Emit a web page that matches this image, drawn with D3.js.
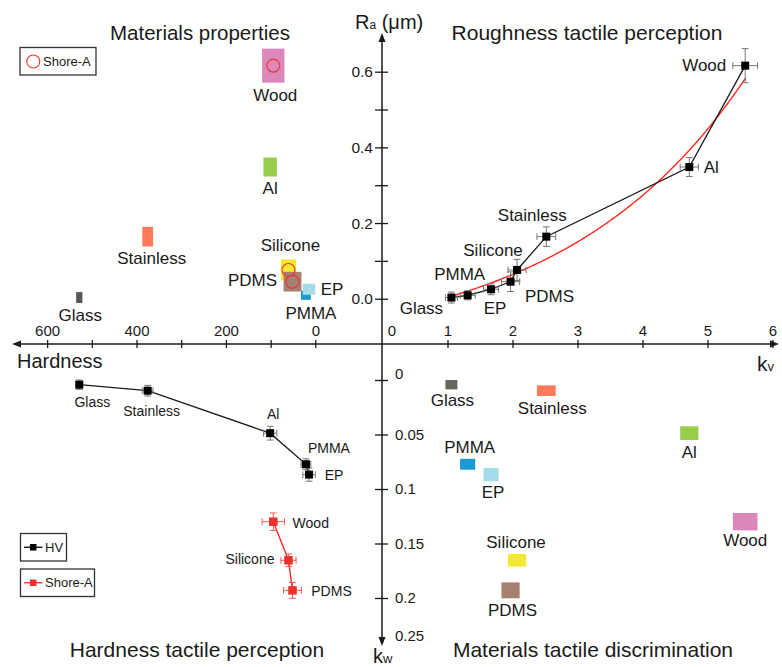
<!DOCTYPE html>
<html>
<head>
<meta charset="utf-8">
<script src="https://cdn.jsdelivr.net/npm/d3@7"></script>
<style>
  body { margin: 0; background: #ffffff; }
  svg { display: block; font-family: "Liberation Sans", Arial, Helvetica, sans-serif; }
</style>
</head>
<body>
<svg id="chart" width="782" height="667"></svg>
<script>
// ---- data ----
const materials     = ["Glass", "Stainless", "Al", "PMMA", "EP", "Silicone", "PDMS", "Wood"];
const hardnessType  = ["HV", "HV", "HV", "HV", "HV", "Shore-A", "Shore-A", "Shore-A"];
const hardness      = [528, 375, 101, 21, 14, 60, 51, 94];
const hardnessErr   = [7, 12, 15, 11, 14, 17, 20, 25];
const ra            = [0.003, 0.164, 0.348, 0.009, 0.025, 0.076, 0.045, 0.616];
const raErr         = [0.0145, 0.026, 0.025, 0.012, 0.0145, 0.028, 0.026, 0.045];
const kv            = [1.06, 2.52, 4.72, 1.31, 1.67, 2.07, 1.97, 5.58];
const kvErr         = [0.092, 0.144, 0.14, 0.116, 0.116, 0.139, 0.14, 0.19];
const kw            = [0.0043, 0.0098, 0.0488, 0.0773, 0.0868, 0.1654, 0.193, 0.130];
const kwErr         = [0.0043, 0.0049, 0.0063, 0.005, 0.0061, 0.0058, 0.0073, 0.008];

// exponential fit Ra = a*exp(b*kv) + c over the measured kv range
const fitA = 0.0993, fitB = 0.355, fitC = -0.138;
const fitDomain = [1.07, 5.6];

// axis ticks
const hardTicks  = [0, 100, 200, 300, 400, 500, 600];
const hardLabels = [0, 200, 400, 600];
const kvTicks    = [0, 1, 2, 3, 4, 5, 6];
const raTicks    = [0, 0.1, 0.2, 0.3, 0.4, 0.5, 0.6];
const raLabels   = [0, 0.2, 0.4, 0.6];
const kwTicks    = [0, 0.05, 0.1, 0.15, 0.2];
const kwEndLabel = "0.25";

// ---- styles ----
const colors = {
  Glass: "#66665a", Stainless: "#ff7a58", Al: "#99cc4a", PMMA: "#1b9ad6",
  EP: "#a4dcea", Silicone: "#f6e830", PDMS: "#a68070", Wood: "#dd88bb"
};
const glassTL = "#585858";
const redCol = "#f0302a";
const errGray = "#777777";
const ink = "#1a1a1a";

// label offsets (dx, dy) from each mark, per panel
const labelTL = { Glass:[1,18], Stainless:[4,22], Al:[0,21], PMMA:[5,18], EP:[23,0], Silicone:[2,-24], PDMS:[-40,-1.5], Wood:[2,29.5] };
const labelTR = { Glass:[-30,10.5], Stainless:[-14,-21.5], Al:[22,0], PMMA:[-8,-21], EP:[4,19], Silicone:[-24,-19.5], PDMS:[39,15], Wood:[-41,0] };
const labelBR = { Glass:[1,15.5], Stainless:[6,17.5], Al:[0,19.5], PMMA:[2,-16.5], EP:[2,18], Silicone:[-1,-18], PDMS:[2,19.7], Wood:[0,19] };
const labelBL = { Glass:[13,17], Stainless:[4,20], Al:[3,-19], PMMA:[23,-16], EP:[25,0], Silicone:[-38.5,-1], PDMS:[39,1], Wood:[37.5,1.6] };

// ---- geometry ----
const W = 782, H = 667;
const origin = { x: 382, y: 344 };
const axisExtent = { left: 12, right: 779, top: 33, bottom: 646 };

const xKv   = d3.scaleLinear().domain([0, 6]).range([382.5, 772.5]);
const yRa   = d3.scaleLinear().domain([0, 0.6]).range([298.7, 71.7]);
const xHard = d3.scaleLinear().domain([0, 600]).range([315.3, 47.1]);
const yKw   = d3.scaleLinear().domain([0, 0.2]).range([380, 598]);

const svg = d3.select("#chart");
svg.append("rect").attr("width", W).attr("height", H).attr("fill", "#fff");

const rows = materials.map((m, i) => ({
  name: m, type: hardnessType[i], h: hardness[i], hErr: hardnessErr[i],
  ra: ra[i], raErr: raErr[i], kv: kv[i], kvErr: kvErr[i], kw: kw[i], kwErr: kwErr[i]
}));
const byName = Object.fromEntries(rows.map(r => [r.name, r]));

// ---- axes ----
const axes = svg.append("g").attr("class", "axes");
axes.append("line")
  .attr("x1", axisExtent.left + 4).attr("x2", axisExtent.right - 4)
  .attr("y1", origin.y).attr("y2", origin.y)
  .attr("stroke", ink).attr("stroke-width", 1.5);
axes.append("line")
  .attr("x1", origin.x).attr("x2", origin.x)
  .attr("y1", axisExtent.top + 4).attr("y2", axisExtent.bottom - 4)
  .attr("stroke", ink).attr("stroke-width", 1.5);

const arrow = (x, y, dir) => {
  const a = 9, b = 3.5;
  let pts;
  if (dir === "left")  pts = [[x, y], [x + a, y - b], [x + a, y + b]];
  if (dir === "right") pts = [[x, y], [x - a, y - b], [x - a, y + b]];
  if (dir === "up")    pts = [[x, y], [x - b, y + a], [x + b, y + a]];
  if (dir === "down")  pts = [[x, y], [x - b, y - a], [x + b, y - a]];
  axes.append("path").attr("d", "M" + pts.map(p => p.join(",")).join("L") + "Z").attr("fill", ink);
};
arrow(axisExtent.left, origin.y, "left");
arrow(axisExtent.right, origin.y, "right");
arrow(origin.x, axisExtent.top, "up");
arrow(origin.x, axisExtent.bottom, "down");

function styleAxis(g, size) {
  g.select(".domain").remove();
  g.selectAll(".tick line").attr("stroke", ink).attr("stroke-width", 1.3);
  g.selectAll(".tick text").attr("fill", ink).style("font-size", size + "px")
    .style("font-family", '"Liberation Sans", Arial, sans-serif');
}

// Hardness axis (pointing left)
const gHard = axes.append("g").attr("transform", `translate(0,${origin.y})`)
  .call(d3.axisTop(xHard).tickValues(hardTicks)
    .tickFormat(d => hardLabels.includes(d) ? String(d) : "")
    .tickSize(4).tickPadding(4));
styleAxis(gHard, 15);
gHard.selectAll(".tick line").attr("y1", 4).attr("y2", -4);

// kv axis (pointing right)
const gKv = axes.append("g").attr("transform", `translate(0,${origin.y})`)
  .call(d3.axisTop(xKv).tickValues(kvTicks).tickFormat(d3.format("d")).tickSize(4).tickPadding(4));
styleAxis(gKv, 15);
gKv.selectAll(".tick line").attr("y1", 4).attr("y2", -4);
gKv.selectAll(".tick").filter(d => d === 0).select("line").remove();
gKv.selectAll(".tick").filter(d => d === 0).select("text").attr("dx", 9);

// Ra axis (pointing up)
const gRa = axes.append("g").attr("transform", `translate(${origin.x},0)`)
  .call(d3.axisLeft(yRa).tickValues(raTicks)
    .tickFormat(d => raLabels.some(v => Math.abs(v - d) < 1e-9) ? d3.format(".1f")(d) : "")
    .tickSize(7).tickPadding(2));
styleAxis(gRa, 15.5);
gRa.selectAll(".tick line").attr("x1", 6).attr("x2", -7);

// kw axis (pointing down)
const gKw = axes.append("g").attr("transform", `translate(${origin.x},0)`)
  .call(d3.axisRight(yKw).tickValues(kwTicks).tickFormat(d => String(d)).tickSize(6).tickPadding(7));
styleAxis(gKw, 15);
gKw.selectAll(".tick line").attr("x1", -7).attr("x2", 6);
gKw.selectAll(".tick").filter(d => d === 0).select("text").attr("dy", "-0.1em");
gKw.selectAll(".tick text").attr("x", 13);
axes.append("text").attr("x", origin.x + 13).attr("y", axisExtent.bottom - 11)
  .attr("dominant-baseline", "central").attr("fill", ink).style("font-size", "15px").text(kwEndLabel);

// axis names
const raName = svg.append("text").attr("x", 355).attr("y", 29).attr("fill", ink).style("font-size", "20px");
raName.append("tspan").text("R");
raName.append("tspan").style("font-size", "12px").text("a");
raName.append("tspan").text(" (\u03bcm)");

const kvName = svg.append("text").attr("x", 757).attr("y", 371).attr("fill", ink).style("font-size", "21px");
kvName.append("tspan").text("k");
kvName.append("tspan").style("font-size", "13px").text("v");

const kwName = svg.append("text").attr("x", 373).attr("y", 663).attr("fill", ink).style("font-size", "20px");
kwName.append("tspan").text("k");
kwName.append("tspan").style("font-size", "13px").text("w");

svg.append("text").attr("x", 17).attr("y", 368).attr("fill", ink).style("font-size", "20px").text("Hardness");

// panel titles
const titles = [
  { text: "Materials properties", x: 200, y: 40, size: 20.5 },
  { text: "Roughness tactile perception", x: 587, y: 40, size: 21 },
  { text: "Hardness tactile perception", x: 197, y: 657, size: 21 },
  { text: "Materials tactile discrimination", x: 593, y: 657, size: 21 }
];
svg.append("g").selectAll("text").data(titles).join("text")
  .attr("x", d => d.x).attr("y", d => d.y).attr("text-anchor", "middle")
  .attr("fill", ink).style("font-size", d => d.size + "px").text(d => d.text);

function addLabel(g, x, y, off, text, size) {
  g.append("text").attr("x", x + off[0]).attr("y", y + off[1])
    .attr("text-anchor", "middle").attr("dominant-baseline", "central")
    .attr("fill", ink).style("font-size", size + "px").text(text);
}

// ---- top-left: hardness vs Ra ----
const gTL = svg.append("g");
const tlOrder = ["Glass", "Stainless", "Al", "Wood", "PMMA", "EP", "Silicone", "PDMS"];
tlOrder.forEach(n => {
  const r = byName[n];
  const x0 = xHard(r.h + r.hErr), x1 = xHard(r.h - r.hErr);
  const y0 = yRa(r.ra + r.raErr), y1 = yRa(r.ra - r.raErr);
  gTL.append("rect").attr("x", x0).attr("y", y0).attr("width", x1 - x0).attr("height", y1 - y0)
    .attr("fill", n === "Glass" ? glassTL : colors[n]);
});
rows.filter(r => r.type === "Shore-A").forEach(r => {
  gTL.append("circle").attr("cx", xHard(r.h)).attr("cy", yRa(r.ra)).attr("r", 6.5)
    .attr("fill", "none").attr("stroke", redCol).attr("stroke-width", 1.1);
});
rows.forEach(r => addLabel(gTL, xHard(r.h), yRa(r.ra), labelTL[r.name], r.name, 17));

// legend (top-left)
const lgTL = svg.append("g");
lgTL.append("rect").attr("x", 20).attr("y", 47.5).attr("width", 76).attr("height", 27.5)
  .attr("fill", "#fff").attr("stroke", "#333").attr("stroke-width", 1.3);
lgTL.append("circle").attr("cx", 33.3).attr("cy", 61.5).attr("r", 6.5)
  .attr("fill", "none").attr("stroke", redCol).attr("stroke-width", 1.1);
lgTL.append("text").attr("x", 43).attr("y", 61.5).attr("dominant-baseline", "central")
  .attr("fill", ink).style("font-size", "13px").text("Shore-A");

// ---- top-right: kv vs Ra ----
const gTR = svg.append("g");
const fitLine = d3.line().x(d => xKv(d)).y(d => yRa(fitA * Math.exp(fitB * d) + fitC));
const fitSamples = d3.range(fitDomain[0], fitDomain[1] + 1e-9, 0.02);
gTR.append("path").attr("d", fitLine(fitSamples)).attr("fill", "none")
  .attr("stroke", "#ff2a1e").attr("stroke-width", 1.4);

const trSorted = rows.slice().sort((a, b) => a.kv - b.kv);
gTR.append("path")
  .attr("d", d3.line().x(d => xKv(d.kv)).y(d => yRa(d.ra))(trSorted))
  .attr("fill", "none").attr("stroke", ink).attr("stroke-width", 1.3);

function errorBars(g, cx, cy, xa, xb, ya, yb, col) {
  const cap = 3.4;
  g.append("line").attr("x1", xa).attr("x2", xb).attr("y1", cy).attr("y2", cy).attr("stroke", col).attr("stroke-width", 1);
  g.append("line").attr("x1", xa).attr("x2", xa).attr("y1", cy - cap).attr("y2", cy + cap).attr("stroke", col).attr("stroke-width", 1);
  g.append("line").attr("x1", xb).attr("x2", xb).attr("y1", cy - cap).attr("y2", cy + cap).attr("stroke", col).attr("stroke-width", 1);
  g.append("line").attr("x1", cx).attr("x2", cx).attr("y1", ya).attr("y2", yb).attr("stroke", col).attr("stroke-width", 1);
  g.append("line").attr("x1", cx - cap).attr("x2", cx + cap).attr("y1", ya).attr("y2", ya).attr("stroke", col).attr("stroke-width", 1);
  g.append("line").attr("x1", cx - cap).attr("x2", cx + cap).attr("y1", yb).attr("y2", yb).attr("stroke", col).attr("stroke-width", 1);
}
function square(g, cx, cy, s, col) {
  g.append("rect").attr("x", cx - s / 2).attr("y", cy - s / 2).attr("width", s).attr("height", s).attr("fill", col);
}

rows.forEach(r => {
  const cx = xKv(r.kv), cy = yRa(r.ra);
  errorBars(gTR, cx, cy, xKv(r.kv - r.kvErr), xKv(r.kv + r.kvErr), yRa(r.ra + r.raErr), yRa(r.ra - r.raErr), errGray);
});
rows.forEach(r => square(gTR, xKv(r.kv), yRa(r.ra), 8, "#000"));
rows.forEach(r => addLabel(gTR, xKv(r.kv), yRa(r.ra), labelTR[r.name], r.name, 17));

// ---- bottom-right: kv vs kw ----
const gBR = svg.append("g");
rows.forEach(r => {
  const x0 = xKv(r.kv - r.kvErr), x1 = xKv(r.kv + r.kvErr);
  const y0 = yKw(r.kw - r.kwErr), y1 = yKw(r.kw + r.kwErr);
  gBR.append("rect").attr("x", x0).attr("y", y0).attr("width", x1 - x0).attr("height", y1 - y0)
    .attr("fill", colors[r.name]);
});
rows.forEach(r => addLabel(gBR, xKv(r.kv), yKw(r.kw), labelBR[r.name], r.name, 17));

// ---- bottom-left: hardness vs kw ----
const gBL = svg.append("g");
const hvRows = rows.filter(r => r.type === "HV").sort((a, b) => b.h - a.h);
const shRows = rows.filter(r => r.type === "Shore-A").sort((a, b) => a.kw - b.kw);
const blLine = d3.line().x(d => xHard(d.h)).y(d => yKw(d.kw));
gBL.append("path").attr("d", blLine(hvRows)).attr("fill", "none").attr("stroke", ink).attr("stroke-width", 1.3);
gBL.append("path").attr("d", blLine(shRows)).attr("fill", "none").attr("stroke", redCol).attr("stroke-width", 1.4);
hvRows.forEach(r => errorBars(gBL, xHard(r.h), yKw(r.kw), xHard(r.h + r.hErr), xHard(r.h - r.hErr),
  yKw(r.kw - r.kwErr), yKw(r.kw + r.kwErr), errGray));
shRows.forEach(r => errorBars(gBL, xHard(r.h), yKw(r.kw), xHard(r.h + r.hErr), xHard(r.h - r.hErr),
  yKw(r.kw - r.kwErr), yKw(r.kw + r.kwErr), "#f25a50"));
hvRows.forEach(r => square(gBL, xHard(r.h), yKw(r.kw), 8, "#000"));
shRows.forEach(r => square(gBL, xHard(r.h), yKw(r.kw), 8.5, redCol));
rows.forEach(r => addLabel(gBL, xHard(r.h), yKw(r.kw), labelBL[r.name], r.name, 14));

// legend (bottom-left)
const lgBL = svg.append("g");
[{ label: "HV", col: "#000", y: 533.5, w: 46 }, { label: "Shore-A", col: redCol, y: 569, w: 74 }].forEach(d => {
  lgBL.append("rect").attr("x", 20.5).attr("y", d.y).attr("width", d.w).attr("height", 27.5)
    .attr("fill", "#fff").attr("stroke", "#333").attr("stroke-width", 1.3);
  const cy = d.y + 13.75;
  lgBL.append("line").attr("x1", 24).attr("x2", 42.5).attr("y1", cy).attr("y2", cy)
    .attr("stroke", d.col).attr("stroke-width", 1.3);
  square(lgBL, 33.2, cy, 6.5, d.col);
  lgBL.append("text").attr("x", 45).attr("y", cy).attr("dominant-baseline", "central")
    .attr("fill", ink).style("font-size", "13px").text(d.label);
});
</script>
</body>
</html>
